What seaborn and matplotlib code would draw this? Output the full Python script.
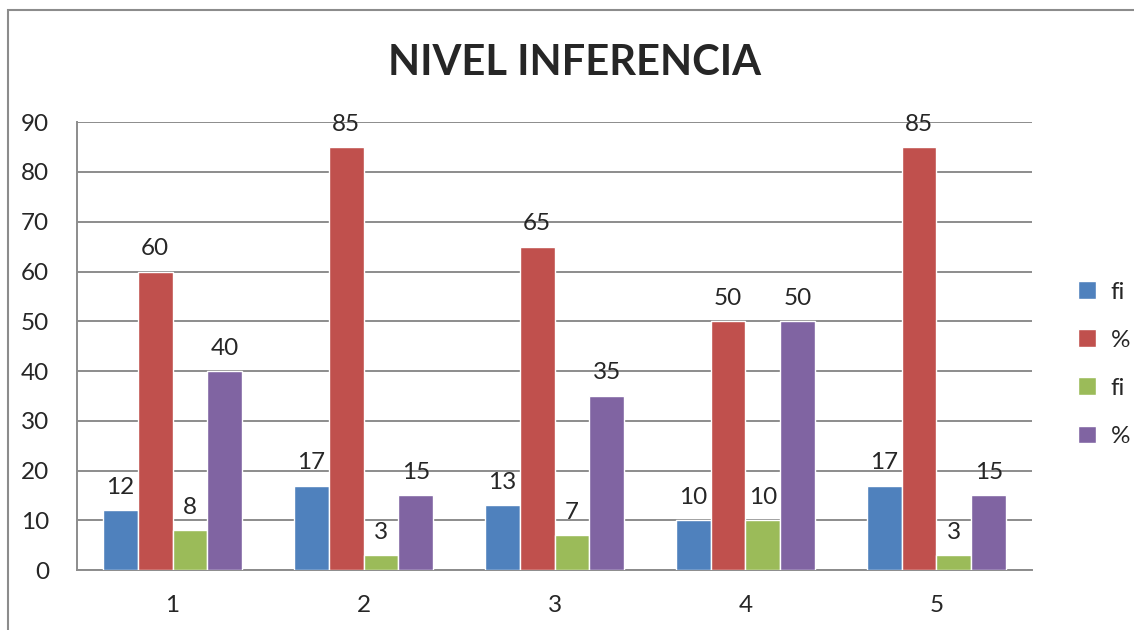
import pandas as pd
import seaborn as sns
import matplotlib.pyplot as plt
from matplotlib.patches import Rectangle

# data
categories = ['1', '2', '3', '4', '5']
fi_a = [12, 17, 13, 10, 17]
pct_a = [60, 85, 65, 50, 85]
fi_b = [8, 3, 7, 10, 3]
pct_b = [40, 15, 35, 50, 15]
series_keys = ['fi_a', 'pct_a', 'fi_b', 'pct_b']
series_labels = ['fi', '%', 'fi', '%']
colors = ['#4F81BD', '#C0504D', '#9BBB59', '#8064A2']

df = pd.DataFrame({
    'cat': categories * 4,
    'serie': [k for k in series_keys for _ in categories],
    'valor': fi_a + pct_a + fi_b + pct_b,
})

sns.set_style('white')
plt.rcParams['font.family'] = ['Lato', 'DejaVu Sans']

fig = plt.figure(figsize=(11.34, 6.3), dpi=100)
ax = fig.add_axes([0.068, 0.095, 0.842, 0.711])

sns.barplot(data=df, x='cat', y='valor', hue='serie', hue_order=series_keys,
            palette=colors, width=0.73, saturation=1, ax=ax, zorder=3)

for cont in ax.containers:
    ax.bar_label(cont, fmt='%d', padding=9, fontsize=17.5)

ax.set_ylim(0, 90)
ax.set_yticks(range(0, 91, 10))
ax.yaxis.grid(True, color='#8c8c8c', linewidth=1.4, zorder=0)
ax.set_xlabel('')
ax.set_ylabel('')
ax.tick_params(axis='both', labelsize=17.5, length=0)
ax.tick_params(axis='x', pad=18)
ax.tick_params(axis='y', pad=20)
for s in ['top', 'right']:
    ax.spines[s].set_visible(False)
for s in ['left', 'bottom']:
    ax.spines[s].set_color('#8c8c8c')
    ax.spines[s].set_linewidth(1.4)

handles, _ = ax.get_legend_handles_labels()
ax.legend(handles, series_labels, loc='center left', bbox_to_anchor=(1.025, 0.46),
          frameon=False, fontsize=17.5, labelspacing=1.1, handlelength=0.75,
          handleheight=0.75, handletextpad=0.6)

fig.text(0.507, 0.900, 'NIVEL INFERENCIA', ha='center', va='center',
         fontsize=30, fontweight='bold')

fig.patches.append(Rectangle((8 / 1134, -0.1), 1.2, 1.1 - 10 / 630,
                             transform=fig.transFigure, fill=False,
                             edgecolor='#8c8c8c', linewidth=1.5))

fig.savefig('out.png', dpi=100)
